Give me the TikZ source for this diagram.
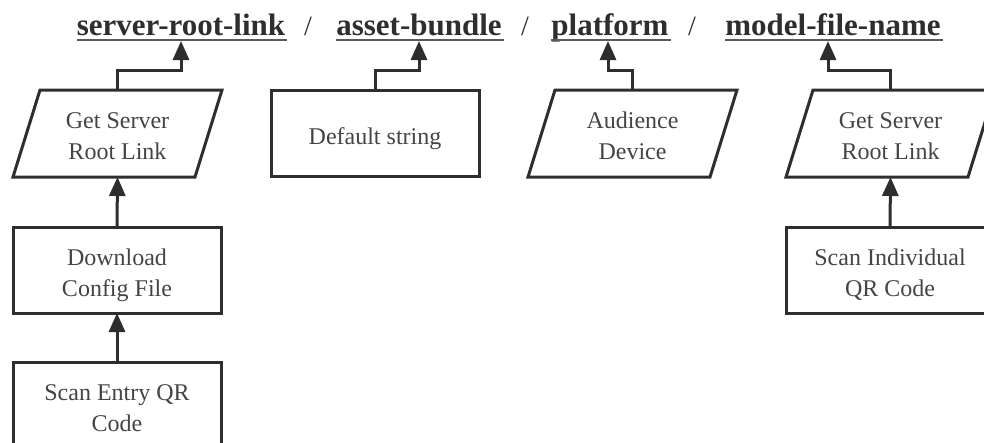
\documentclass[tikz,border=0pt]{standalone}
\usepackage{fontspec}
\setmainfont{Liberation Serif}
\usetikzlibrary{arrows.meta}
\definecolor{ink}{HTML}{2E2E2E}
\definecolor{txt}{HTML}{444444}
\definecolor{rulegrey}{HTML}{5A5A5A}
% box caption: centred lines on struts, set a little below the box centre
\newcommand\boxlines[1]{\raisebox{-4.5pt}[\height][\depth]{\begin{tabular}{@{}c@{}}#1\end{tabular}}}
\begin{document}
\begin{tikzpicture}[x=1pt,y=-1pt,
  boxtext/.style={text=txt, font=\fontsize{24}{31}\selectfont, inner sep=0pt, outer sep=0pt},
  stepbox/.style={boxtext, draw=ink, line width=3pt, minimum width=208pt, minimum height=86pt},
  iobox/.style={boxtext, minimum width=209pt, minimum height=87pt},
  ioedge/.style={draw=ink, line width=3pt},
  field/.style={text=ink, font=\fontsize{31}{36}\selectfont\bfseries, inner sep=0pt, outer sep=0pt, anchor=base},
  slash/.style={text=ink, font=\fontsize{28}{34}\selectfont, inner sep=0pt, anchor=base},
  uline/.style={draw=rulegrey, line width=2pt},
  link/.style={draw=ink, line width=3pt, -{Triangle[length=19pt,width=16pt]}}]
\clip (0,0) rectangle (984,442);

% URL fields
\node[field] (f1) at (181,35) {server-root-link};
\node[slash] (s1) at (308,35) {/};
\node[field] (f2) at (419,35) {asset-bundle};
\node[slash] (s2) at (525,35) {/};
\node[field] (f3) at (610,35) {platform};
\node[slash] (s3) at (692,35) {/};
\node[field] (f4) at (833,35) {model-file-name};
\foreach \f in {f1,f2,f3,f4}
  \draw[uline] ([yshift=-5pt]\f.base west) -- ([yshift=-5pt,xshift=2pt]\f.base east);

% sources of each field
\node[iobox] (g1) at (117.5,133.5) {\boxlines{Get Server\\Root Link}};
\node[stepbox] (b2) at (375,133.5) {\boxlines{Default string}};
\node[iobox] (g3) at (632.5,133.5) {\boxlines{Audience\\Device}};
\node[iobox] (g4) at (890.5,133.5) {\boxlines{Get Server\\Root Link}};
\foreach \g in {g1,g3,g4}
  \draw[ioedge] ([xshift=27pt]\g.north west) -- (\g.north east)
    -- ([xshift=-27pt]\g.south east) -- (\g.south west) -- cycle;

\node[stepbox] (d1) at (117,270) {\boxlines{Download\\Config File}};
\node[stepbox] (e1) at (117,405) {\boxlines{Scan Entry QR\\Code}};
\node[stepbox] (q4) at (890,270) {\boxlines{Scan Individual\\QR Code}};

% connectors
\draw[link] (g1.north) -- ++(0,-20) -| ([yshift=-6pt]f1.base);
\draw[link] (b2.north) -- ++(0,-20) -| ([yshift=-6pt]f2.base);
\draw[link] (g3.north) -- ++(0,-20) -| ([yshift=-6pt,xshift=-2pt]f3.base);
\draw[link] (g4.north) -- ++(0,-20) -| ([yshift=-6pt,xshift=-5pt]f4.base);
\draw[link] (d1.north) -- (g1.south);
\draw[link] (e1.north) -- (d1.south);
\draw[link] (q4.north) -- (g4.south);
\end{tikzpicture}
\end{document}
